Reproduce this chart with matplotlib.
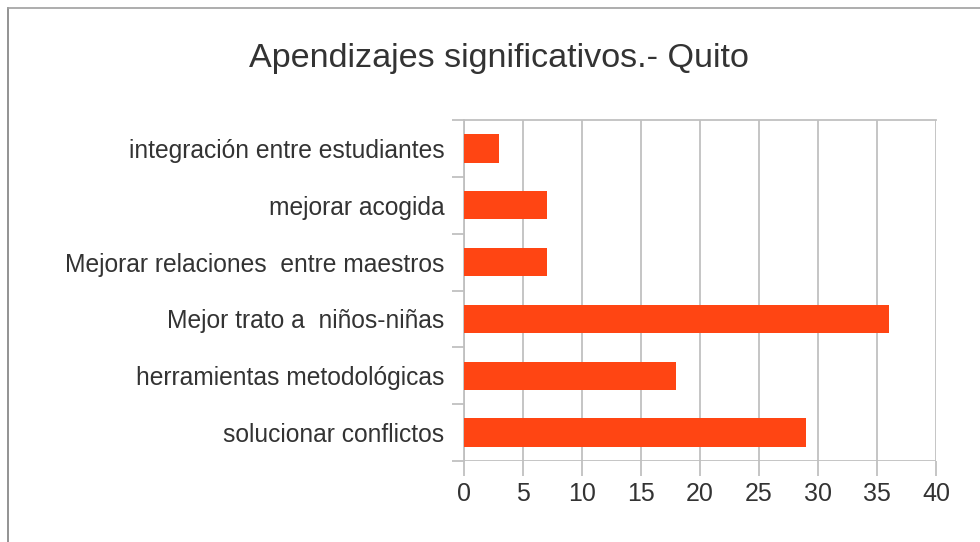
import matplotlib
matplotlib.use("Agg")
import matplotlib.pyplot as plt
from matplotlib.lines import Line2D

categories = ["solucionar conflictos", "herramientas metodológicas", "Mejor trato a  niños-niñas",
              "Mejorar relaciones  entre maestros", "mejorar acogida", "integración entre estudiantes"]
values = [29, 18, 36, 7, 7, 3]
xticks = [0, 5, 10, 15, 20, 25, 30, 35, 40]
title = "Apendizajes significativos.- Quito"

plt.rcParams['font.family'] = ['Liberation Sans', 'DejaVu Sans']
fig = plt.figure(figsize=(9.8, 5.42), dpi=100)
ax = fig.add_axes([464/980, 1-461/542, (936-464)/980, (461-120)/542])

pos = list(range(len(categories)))
ax.barh(pos, values, height=0.5, color='#ff4513', zorder=3)
ax.set_xlim(0, 40)
ax.set_ylim(-0.5, len(categories)-0.5)
ax.set_xticks(xticks)
ax.set_xticklabels([str(t) for t in xticks])
ax.set_yticks(pos)
ax.set_yticklabels(categories)
ax.set_yticks([p - 0.5 for p in pos] + [len(categories)-0.5], minor=True)
ax.tick_params(axis='y', which='major', length=0, pad=14, labelsize=17.7, labelcolor='#333333')
ax.tick_params(axis='y', which='minor', length=9, width=1.3, color='#c0c0c0')
ax.tick_params(axis='x', length=11, width=1.3, color='#c0c0c0', labelsize=18, labelcolor='#333333', pad=4)
ax.grid(axis='x', color='#c0c0c0', linewidth=1.3, zorder=0)
for s in ['right', 'bottom']:
    ax.spines[s].set_visible(False)
ax.spines['left'].set_color('#c0c0c0')
ax.spines['left'].set_linewidth(1.3)
ax.spines['top'].set_color('#c0c0c0')
ax.spines['top'].set_linewidth(1.3)
ax.axhline(-0.5, color='#c0c0c0', linewidth=1.3, zorder=1)

fig.text(499/980, 1-58/542, title, ha='center', va='center', fontsize=24.6, color='#333333')

fig.add_artist(Line2D([8/980, 8/980], [0, 1-8/542], color='#808080', linewidth=1.2))
fig.add_artist(Line2D([8/980, 1], [1-8/542, 1-8/542], color='#a0a0a0', linewidth=1.2))

fig.savefig("out.png", dpi=100)
